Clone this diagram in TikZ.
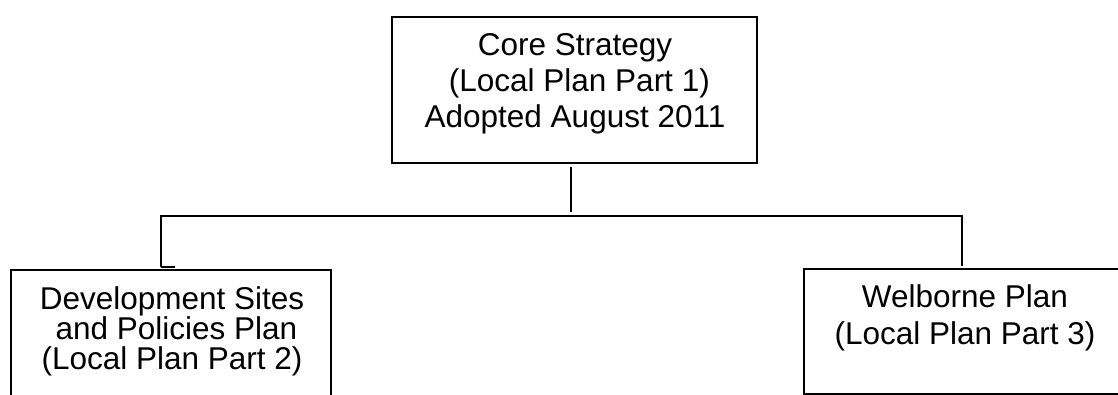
\documentclass[tikz,border=0pt]{standalone}
\usepackage{fontspec}
\setmainfont{Liberation Sans}
\begin{document}
\begin{tikzpicture}[x=1pt,y=-1pt,
  boxstyle/.style={draw, line width=1.8pt, inner sep=0pt},
  txt/.style={align=center, inner sep=0pt, font=\fontsize{31.5}{36}\selectfont},
  conn/.style={line width=1.8pt}]
\useasboundingbox (0,0) rectangle (1118,395);
% boxes
\node[boxstyle, minimum width=365pt, minimum height=146pt] (top) at (574.5,90) {};
\node[boxstyle, minimum width=320pt, minimum height=160pt] (left) at (171,350) {};
\node[boxstyle, minimum width=330pt, minimum height=125pt] (right) at (969,331.5) {};
% texts
\node[txt] (toptext) at (575,84) {Core Strategy\\\ (Local Plan Part 1)\\Adopted August 2011};
\node[txt, font=\fontsize{31.5}{30}\selectfont] (lefttext) at (172,331) {Development Sites\\\ and Policies Plan\\(Local Plan Part 2)};
\node[txt, font=\fontsize{31.5}{37}\selectfont] (righttext) at (965,318) {Welborne Plan\\(Local Plan Part 3)};
% connector points
\coordinate (tdown1) at (571,167);
\coordinate (tdown2) at (571,212);
\coordinate (jl) at (161,216);
\coordinate (jr) at (962,216);
\coordinate (lend) at (161,267);
\coordinate (ltick) at (175,267);
\coordinate (rend) at (962,266);
\draw[conn] (tdown1) -- (tdown2);
\draw[conn] (lend) -- (jl) -- (jr) -- (rend);
\draw[conn] (lend) -- (ltick);
\end{tikzpicture}
\end{document}
